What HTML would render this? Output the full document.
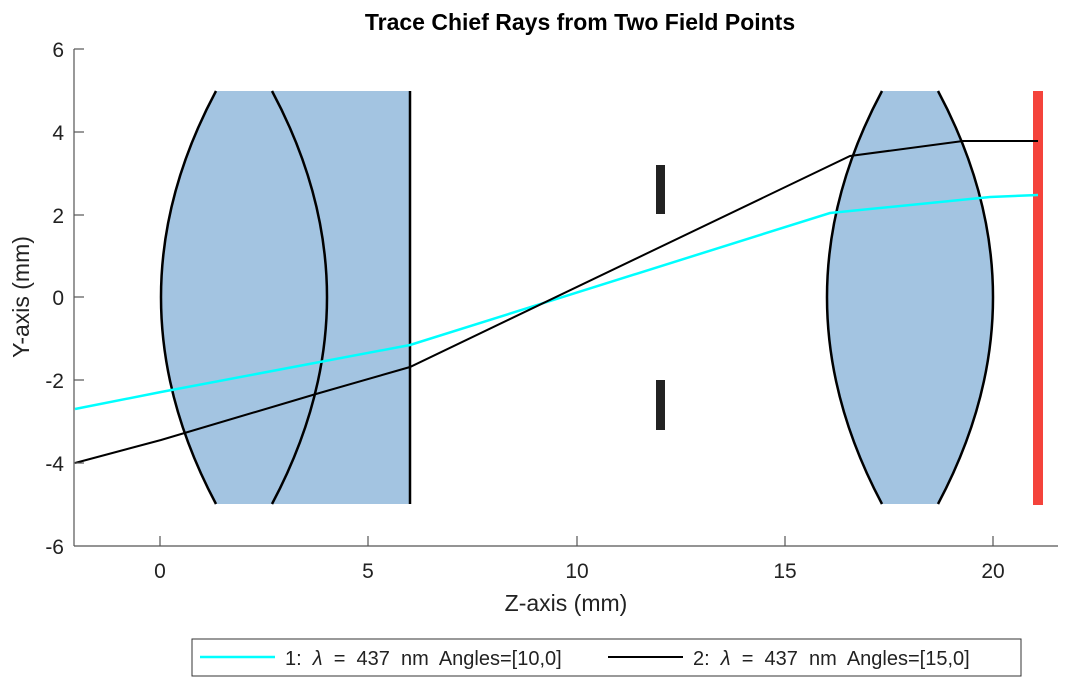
<!DOCTYPE html>
<html><head><style>body{margin:0;background:#fff}</style></head><body>
<svg width="1073" height="686" xmlns="http://www.w3.org/2000/svg" font-family="Liberation Sans, Arial, sans-serif">
<rect width="1073" height="686" fill="#fff"/>
<text x="580" y="30" font-size="23" font-weight="bold" text-anchor="middle">Trace Chief Rays from Two Field Points</text>
<!-- lens 1 -->
<path d="M216,91 Q106,297 216,504 L410,504 L410,91 Z" fill="#a3c4e1"/>
<path d="M216,91 Q106,297 216,504" fill="none" stroke="#000" stroke-width="2.5"/>
<path d="M272,91 Q382,297 272,504" fill="none" stroke="#000" stroke-width="2.5"/>
<line x1="410" y1="91" x2="410" y2="504" stroke="#000" stroke-width="2.5"/>
<!-- lens 2 -->
<path d="M882,91 Q772,297 882,504 L938,504 Q1048,297 938,91 Z" fill="#a3c4e1"/>
<path d="M882,91 Q772,297 882,504" fill="none" stroke="#000" stroke-width="2.5"/>
<path d="M938,91 Q1048,297 938,504" fill="none" stroke="#000" stroke-width="2.5"/>
<!-- stop -->
<rect x="656" y="165" width="9" height="49" fill="#222"/>
<rect x="656" y="380" width="9" height="50" fill="#222"/>
<!-- image plane -->
<rect x="1033" y="91" width="10" height="414" fill="#f4433b"/>
<!-- rays -->
<polyline points="75,409 161,392 410,345 830,213 990,197 1038,195" fill="none" stroke="#00ffff" stroke-width="2.5"/>
<polyline points="75,463 161,440 316,394 410,367 850,156 963,141 1038,141" fill="none" stroke="#000" stroke-width="2"/>
<!-- axes -->
<g stroke="#555" stroke-width="1.2" fill="none">
<line x1="74" y1="49" x2="74" y2="546"/>
<line x1="74" y1="546" x2="1058" y2="546"/>
<line x1="160" y1="546" x2="160" y2="536"/><line x1="368" y1="546" x2="368" y2="536"/>
<line x1="577" y1="546" x2="577" y2="536"/><line x1="785" y1="546" x2="785" y2="536"/>
<line x1="993" y1="546" x2="993" y2="536"/>
<line x1="74" y1="49" x2="84" y2="49"/><line x1="74" y1="132" x2="84" y2="132"/>
<line x1="74" y1="215" x2="84" y2="215"/><line x1="74" y1="297" x2="84" y2="297"/>
<line x1="74" y1="380" x2="84" y2="380"/><line x1="74" y1="463" x2="84" y2="463"/>
</g>
<g font-size="21" fill="#222" text-anchor="end">
<text x="64" y="57">6</text><text x="64" y="140">4</text><text x="64" y="223">2</text>
<text x="64" y="305">0</text><text x="64" y="388">-2</text><text x="64" y="471">-4</text><text x="64" y="554">-6</text>
</g>
<g font-size="21" fill="#222" text-anchor="middle">
<text x="160" y="578">0</text><text x="368" y="578">5</text><text x="577" y="578">10</text>
<text x="785" y="578">15</text><text x="993" y="578">20</text>
</g>
<text x="566" y="611" font-size="23" fill="#222" text-anchor="middle">Z-axis (mm)</text>
<text transform="translate(29,297) rotate(-90)" font-size="23" fill="#222" text-anchor="middle">Y-axis (mm)</text>
<!-- legend -->
<rect x="192" y="639" width="829" height="37" fill="#fff" stroke="#333" stroke-width="1"/>
<line x1="200" y1="657" x2="275" y2="657" stroke="#00ffff" stroke-width="2.5"/>
<text x="285" y="665" font-size="20" fill="#222" xml:space="preserve">1:  <tspan font-style="italic">λ</tspan>  =  437  nm  Angles=[10,0]</text>
<line x1="608" y1="657" x2="683" y2="657" stroke="#000" stroke-width="2"/>
<text x="693" y="665" font-size="20" fill="#222" xml:space="preserve">2:  <tspan font-style="italic">λ</tspan>  =  437  nm  Angles=[15,0]</text>
</svg>
</body></html>
